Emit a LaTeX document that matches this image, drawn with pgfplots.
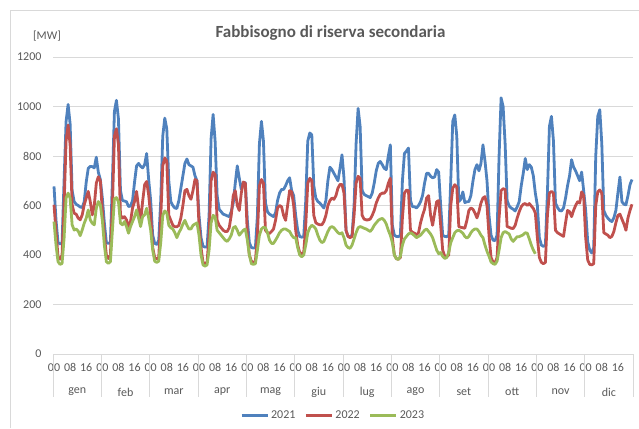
\documentclass[border=0pt]{standalone}
\usepackage{fontspec}
\setmainfont{Carlito}
\usepackage{pgfplots}
\pgfplotsset{compat=1.18}
\usepackage{pgfplotstable}
\definecolor{c21}{HTML}{4F81BD}
\definecolor{c22}{HTML}{C0504D}
\definecolor{c23}{HTML}{9BBB59}
\definecolor{txt}{HTML}{595959}
\definecolor{grd}{HTML}{D9D9D9}

% 2021: 12 months x 24 hours
\pgfplotstableread[row sep=\\]{
y\\
677\\540\\450\\445\\447\\700\\940\\1008\\930\\660\\616\\605\\600\\594\\592\\615\\695\\750\\758\\757\\752\\795\\735\\705\\
630\\530\\450\\447\\450\\700\\980\\1025\\950\\660\\620\\618\\615\\596\\598\\620\\695\\760\\770\\758\\752\\765\\810\\705\\
620\\480\\447\\443\\460\\620\\880\\953\\910\\700\\615\\600\\590\\588\\620\\670\\720\\770\\788\\765\\760\\755\\720\\700\\
560\\470\\435\\432\\432\\560\\870\\968\\860\\640\\585\\575\\565\\562\\558\\555\\575\\610\\690\\760\\710\\665\\690\\692\\
540\\450\\430\\428\\430\\560\\850\\940\\860\\610\\575\\565\\560\\555\\570\\620\\650\\665\\665\\680\\700\\712\\660\\640\\
560\\500\\475\\472\\474\\620\\860\\893\\885\\680\\630\\616\\610\\600\\590\\620\\700\\755\\745\\730\\715\\700\\750\\805\\
710\\500\\475\\474\\480\\600\\850\\992\\920\\660\\645\\640\\636\\632\\650\\690\\740\\770\\778\\765\\750\\745\\800\\845\\
520\\480\\475\\474\\480\\700\\810\\820\\832\\620\\595\\595\\590\\600\\615\\640\\690\\730\\730\\718\\712\\715\\745\\735\\
600\\480\\475\\474\\480\\700\\940\\966\\880\\616\\625\\655\\612\\615\\616\\640\\697\\745\\765\\740\\770\\845\\780\\700\\
560\\480\\460\\458\\480\\800\\1035\\1000\\850\\620\\598\\590\\585\\578\\595\\616\\680\\730\\790\\745\\765\\755\\720\\650\\
600\\470\\440\\435\\440\\650\\920\\960\\860\\610\\592\\580\\578\\590\\630\\680\\720\\785\\755\\740\\720\\700\\735\\660\\
580\\454\\420\\408\\430\\800\\960\\987\\850\\580\\560\\549\\540\\535\\550\\580\\650\\715\\615\\605\\603\\640\\684\\705\\
}\tblA

% 2022
\pgfplotstableread[row sep=\\]{
y\\
603\\495\\393\\383\\400\\600\\860\\925\\846\\603\\569\\565\\549\\542\\562\\603\\630\\657\\616\\562\\600\\690\\716\\700\\
580\\480\\400\\386\\400\\600\\880\\910\\846\\562\\549\\555\\542\\515\\535\\590\\616\\657\\590\\535\\616\\684\\697\\643\\
560\\430\\390\\384\\390\\550\\760\\792\\780\\560\\540\\520\\514\\514\\520\\550\\600\\660\\665\\640\\625\\660\\705\\700\\
520\\430\\370\\365\\370\\480\\700\\735\\725\\540\\520\\510\\500\\495\\495\\510\\560\\640\\660\\600\\580\\650\\695\\690\\
480\\400\\375\\370\\375\\480\\680\\705\\690\\500\\490\\487\\495\\505\\540\\590\\600\\595\\560\\540\\600\\660\\655\\600\\
500\\440\\410\\405\\410\\520\\690\\710\\700\\560\\530\\525\\522\\522\\535\\560\\600\\620\\630\\625\\640\\670\\685\\685\\
650\\500\\475\\470\\475\\560\\690\\718\\710\\560\\545\\542\\542\\545\\560\\580\\610\\630\\645\\650\\650\\660\\690\\710\\
470\\400\\385\\383\\390\\550\\650\\662\\660\\500\\492\\488\\482\\490\\530\\560\\585\\630\\640\\560\\520\\570\\615\\620\\
520\\420\\395\\393\\400\\600\\670\\684\\675\\515\\512\\510\\508\\540\\580\\590\\585\\570\\550\\575\\610\\630\\636\\600\\
480\\390\\372\\368\\390\\550\\660\\668\\665\\515\\512\\508\\507\\520\\550\\575\\595\\605\\608\\600\\608\\598\\588\\570\\
470\\390\\370\\365\\370\\560\\650\\657\\650\\500\\490\\485\\480\\475\\530\\580\\575\\555\\580\\600\\615\\610\\655\\640\\
470\\380\\362\\360\\365\\600\\655\\663\\650\\490\\485\\480\\470\\475\\495\\530\\560\\565\\545\\525\\500\\550\\580\\605\\
}\tblB

% 2023 (gen - ott)
\pgfplotstableread[row sep=\\]{
y\\
535\\440\\373\\362\\366\\467\\630\\650\\630\\522\\501\\505\\497\\478\\501\\528\\549\\582\\542\\528\\522\\589\\616\\603\\
540\\440\\373\\366\\373\\500\\627\\632\\616\\528\\522\\535\\515\\488\\515\\535\\555\\582\\549\\515\\555\\562\\589\\549\\
500\\420\\375\\370\\375\\450\\560\\578\\570\\520\\510\\505\\490\\470\\490\\505\\525\\540\\520\\505\\505\\520\\525\\530\\
480\\400\\360\\355\\360\\420\\530\\560\\555\\500\\490\\480\\470\\460\\455\\465\\480\\510\\515\\500\\480\\490\\500\\505\\
460\\400\\365\\362\\365\\420\\480\\505\\512\\510\\490\\460\\447\\447\\460\\474\\490\\500\\505\\505\\500\\495\\480\\470\\
470\\430\\400\\393\\400\\440\\490\\510\\520\\515\\505\\480\\460\\450\\455\\475\\495\\510\\515\\510\\500\\490\\485\\490\\
470\\440\\430\\427\\440\\465\\490\\510\\515\\512\\508\\505\\500\\495\\505\\520\\530\\540\\545\\548\\540\\525\\500\\480\\
450\\400\\385\\382\\395\\440\\465\\475\\485\\490\\485\\478\\470\\475\\480\\490\\500\\505\\495\\485\\470\\445\\420\\405\\
410\\395\\386\\390\\410\\450\\470\\490\\498\\500\\495\\488\\475\\468\\475\\490\\500\\505\\505\\495\\480\\470\\440\\415\\
395\\372\\365\\362\\375\\420\\470\\490\\495\\490\\485\\465\\455\\465\\474\\474\\478\\482\\490\\488\\465\\440\\420\\405\\
}\tblC

\newcommand{\tf}{\fontsize{12}{14}\selectfont}
\begin{document}
\begin{tikzpicture}
\path[use as bounding box] (0pt,0pt) rectangle (639pt,428pt);
\draw[grd, line width=0.8pt] (10.5pt,0pt) -- (10.5pt,417.5pt) -- (639pt,417.5pt);
\node[text=txt, font=\bfseries\fontsize{17}{20}\selectfont] at (330.5pt,395pt) {Fabbisogno di riserva secondaria};
\node[text=txt, font=\fontsize{11.8}{14}\selectfont] at (47pt,392pt) {[MW]};
\begin{axis}[
  at={(53pt,74pt)}, anchor=south west,
  scale only axis, width=580pt, height=297pt,
  xmin=-0.5, xmax=287.5, ymin=0, ymax=1200,
  clip=false,
  axis line style={draw=none},
  tick style={draw=none},
  ytick={0,200,400,600,800,1000,1200},
  yticklabels={0,200,400,600,800,1000,1200},
  ymajorgrids,
  major grid style={grd, line width=0.9pt},
  xtick={0,8,...,280},
  xticklabels={00,08,16,00,08,16,00,08,16,00,08,16,00,08,16,00,08,16,00,08,16,00,08,16,00,08,16,00,08,16,00,08,16,00,08,16},
  /pgf/number format/assume math mode=true,
  ticklabel style={font=\tf, text=txt},
  yticklabel style={xshift=-8pt},
  xticklabel style={yshift=-6pt},
  legend style={at={(0.483,-0.208)}, anchor=center, draw=none, fill=none,
    legend columns=3, font=\tf, text=txt,
    /tikz/every even column/.append style={column sep=7pt}},
  legend image code/.code={\draw[#1, line width=3pt] (0pt,0pt) -- (26pt,0pt);},
]
\addplot[c21, line width=2.8pt, line join=round, no markers] table[x expr=\coordindex, y index=0] {\tblA};
\addplot[c22, line width=2.8pt, line join=round, no markers] table[x expr=\coordindex, y index=0] {\tblB};
\addplot[c23, line width=2.8pt, line join=round, no markers] table[x expr=\coordindex, y index=0] {\tblC};
\legend{2021,2022,2023}
\pgfplotsinvokeforeach{0,...,12}{\draw[grd, line width=0.8pt] (axis cs:{24*#1-0.5},0) -- ++(0pt,-43pt);}
\node[text=txt, font=\tf, yshift=-38pt] at (axis cs:11.5,0) {gen};
\node[text=txt, font=\tf, yshift=-38pt] at (axis cs:35.5,0) {feb};
\node[text=txt, font=\tf, yshift=-38pt] at (axis cs:59.5,0) {mar};
\node[text=txt, font=\tf, yshift=-38pt] at (axis cs:83.5,0) {apr};
\node[text=txt, font=\tf, yshift=-38pt] at (axis cs:107.5,0) {mag};
\node[text=txt, font=\tf, yshift=-38pt] at (axis cs:131.5,0) {giu};
\node[text=txt, font=\tf, yshift=-38pt] at (axis cs:155.5,0) {lug};
\node[text=txt, font=\tf, yshift=-38pt] at (axis cs:179.5,0) {ago};
\node[text=txt, font=\tf, yshift=-38pt] at (axis cs:203.5,0) {set};
\node[text=txt, font=\tf, yshift=-38pt] at (axis cs:227.5,0) {ott};
\node[text=txt, font=\tf, yshift=-38pt] at (axis cs:251.5,0) {nov};
\node[text=txt, font=\tf, yshift=-38pt] at (axis cs:275.5,0) {dic};
\end{axis}
\end{tikzpicture}
\end{document}
